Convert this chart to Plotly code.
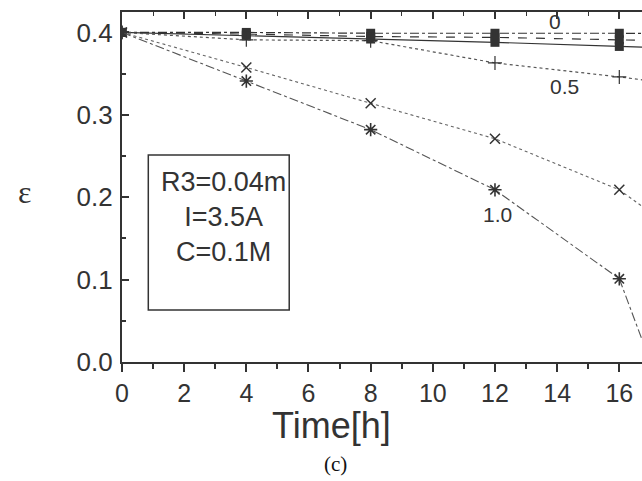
import plotly.graph_objects as go

# ---- data ----
time_h = [0, 4, 8, 12, 16, 20]
eps_0_top = [0.400, 0.400, 0.399, 0.399, 0.399, 0.398]     # dash-dot, squares
eps_0_mid = [0.400, 0.398, 0.395, 0.394, 0.391, 0.388]     # dashed, squares
eps_0_low = [0.400, 0.396, 0.392, 0.388, 0.383, 0.378]     # solid, squares
eps_05 = [0.400, 0.391, 0.390, 0.363, 0.346, 0.327]        # dotted, "+"
eps_x = [0.400, 0.3575, 0.314, 0.271, 0.209, 0.100]        # dotted, "x"
time_10 = [0, 4, 8, 12, 16, 17]
eps_10 = [0.400, 0.341, 0.282, 0.209, 0.101, 0.0]          # dash-dot, "*"

x_ticks = [0, 2, 4, 6, 8, 10, 12, 14, 16]
y_ticks = [0.0, 0.1, 0.2, 0.3, 0.4]
box_lines = ["R3=0.04m", "I=3.5A", "C=0.1M"]
curve_labels = ["0", "0.5", "1.0"]

INK = "#333333"
SANS = "Liberation Sans, Arial, sans-serif"
SERIF = "Liberation Serif, Times New Roman, serif"

fig = go.Figure()

# series with square markers (group "0")
for ys, dash in [(eps_0_top, "dashdot"), (eps_0_mid, "dash"), (eps_0_low, "solid")]:
    fig.add_trace(go.Scatter(
        x=time_h, y=ys, mode="lines+markers",
        line=dict(color=INK, width=1.2, dash=dash),
        marker=dict(symbol="square", size=9, color=INK),
        showlegend=False))

fig.add_trace(go.Scatter(
    x=time_h, y=eps_05, mode="lines+markers",
    line=dict(color="#555555", width=1.2, dash="dot"),
    marker=dict(symbol="cross-thin", size=10, line=dict(color=INK, width=1.2)),
    showlegend=False))

fig.add_trace(go.Scatter(
    x=time_h, y=eps_x, mode="lines+markers",
    line=dict(color="#666666", width=1.1, dash="dot"),
    marker=dict(symbol="x-thin", size=10, line=dict(color=INK, width=1.5)),
    showlegend=False))

fig.add_trace(go.Scatter(
    x=time_10, y=eps_10, mode="lines+markers",
    line=dict(color="#555555", width=1.1, dash="dashdot"),
    marker=dict(symbol="asterisk", size=11, line=dict(color=INK, width=1.6)),
    showlegend=False))

# dummy trace for the top mirrored axis
fig.add_trace(go.Scatter(x=[None], y=[None], xaxis="x2", showlegend=False, hoverinfo="skip"))

fig.update_layout(
    width=642, height=481,
    margin=dict(l=122, r=0, t=12, b=119),
    paper_bgcolor="white", plot_bgcolor="white",
    showlegend=False,
    xaxis=dict(
        range=[0, 16.73], tickvals=x_ticks, ticks="outside", ticklen=8, tickwidth=2,
        tickcolor=INK, minor=dict(dtick=1, tick0=0, ticks="outside", ticklen=5, tickwidth=1.5, tickcolor=INK),
        showline=True, linewidth=2.2, linecolor=INK, showgrid=False, zeroline=False,
        tickfont=dict(family=SANS, size=25, color=INK), ticklabelstandoff=0),
    xaxis2=dict(
        overlaying="x", side="top", anchor="y", matches="x",
        tickvals=x_ticks, ticks="inside", ticklen=7, tickwidth=1.5, tickcolor=INK,
        minor=dict(dtick=1, tick0=0, ticks="inside", ticklen=4, tickwidth=1.2, tickcolor=INK),
        showticklabels=False, showline=True, linewidth=1.8, linecolor=INK,
        showgrid=False, zeroline=False),
    yaxis=dict(
        range=[0, 0.4248], tickvals=y_ticks, tickformat=".1f", ticks="inside", ticklen=7,
        tickwidth=2, tickcolor=INK,
        minor=dict(dtick=0.05, tick0=0, ticks="inside", ticklen=4, tickwidth=1.5, tickcolor=INK),
        showline=True, linewidth=2.2, linecolor=INK, showgrid=False, zeroline=False,
        tickfont=dict(family=SANS, size=26, color=INK), ticklabelstandoff=2),
)

# parameter box
fig.add_shape(type="rect", xref="x", yref="y", x0=0.846, x1=5.38, y0=0.0631, y1=0.2512,
              line=dict(color=INK, width=1.5), fillcolor="rgba(0,0,0,0)")
fig.add_annotation(xref="x", yref="y", x=3.28, y=0.1755, text="<br>".join(box_lines),
                   xanchor="center", yanchor="middle",
                   showarrow=False, align="center", font=dict(family=SANS, size=27, color=INK))

# curve labels
for txt, xv, yv in zip(curve_labels, [13.93, 14.25, 12.08], [0.413, 0.334, 0.1796]):
    fig.add_annotation(xref="x", yref="y", x=xv, y=yv, text=txt, showarrow=False,
                       xanchor="center", yanchor="middle",
                       font=dict(family=SANS, size=21, color=INK))

# axis titles & caption
fig.add_annotation(xref="paper", yref="paper", x=-0.188, y=0.486, text="ε", showarrow=False,
                   xanchor="center", yanchor="middle",
                   font=dict(family=SERIF, size=32, color=INK))
fig.add_annotation(xref="paper", yref="paper", x=0.402, y=-0.18, text="Time[h]", showarrow=False,
                   xanchor="center", yanchor="middle",
                   font=dict(family=SANS, size=36, color=INK))
fig.add_annotation(xref="paper", yref="paper", x=0.41, y=-0.291, text="(c)", showarrow=False,
                   xanchor="center", yanchor="middle",
                   font=dict(family=SERIF, size=21, color="#111111"))

fig.write_html(
    "out.html",
    config={"displayModeBar": False},
    post_script="document.body.style.margin='0';document.body.style.padding='0';"
                "document.body.style.overflow='hidden';",
)
